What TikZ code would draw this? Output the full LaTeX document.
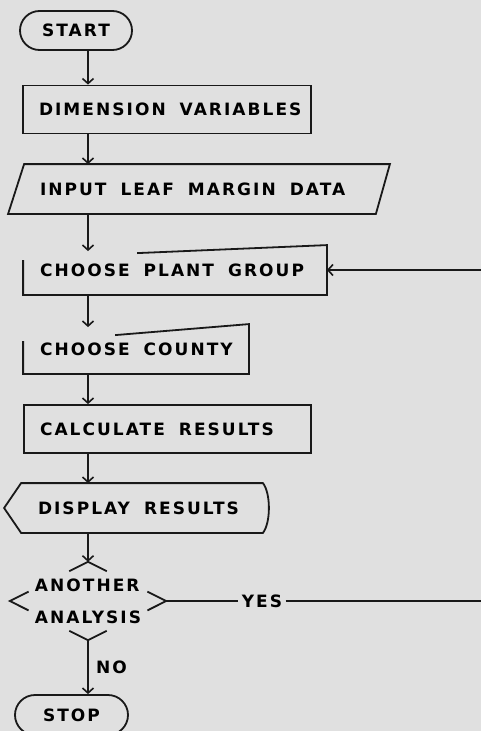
\documentclass[tikz,border=0pt]{standalone}
\usepackage{fontspec}
\usetikzlibrary{arrows.meta, positioning, calc, shapes.misc}
\newfontfamily\lettering[LetterSpace=12]{DejaVu Sans Bold}
\newcommand\wgap{\nobreak\hskip 14pt\relax}
\uchyph=0
\definecolor{paper}{RGB}{224,224,224}
\definecolor{ink}{RGB}{25,25,25}

\begin{document}
\begin{tikzpicture}[
        x=1pt, y=-1pt,
        font={\fontsize{17}{20}\lettering},
        box/.style={draw=ink, line width=1.8pt, minimum height=48, inner xsep=16, inner ysep=0, align=left},
        term/.style={draw=ink, line width=1.8pt, rounded rectangle, minimum width=112, minimum height=39, inner sep=0},
        edge/.style={draw=ink, line width=1.8pt},
        arr/.style={-{Straight Barb[length=5pt, width=11pt]}, draw=ink, line width=1.6pt}
    ]
        \useasboundingbox (0,0) rectangle (481,731);
        \clip (0,0) rectangle (481,731);
        \fill[paper] (0,0) rectangle (481,731);
        \coordinate (spine) at (88,0);
        \coordinate (back) at (500,0);

        \node[term] (start) at (76,30.5) {START};
        \node[box, text width=256] (dim) at (167,109.5) {DIMENSION\wgap VARIABLES};
        \node[box, draw=none, text width=318] (input) at (199,189) {INPUT\wgap LEAF\wgap MARGIN\wgap DATA};
        \node[box, draw=none, text width=270] (plant) at (175,270) {CHOOSE\wgap PLANT\wgap GROUP};
        \node[box, draw=none, text width=192] (county) at (136,349) {CHOOSE\wgap COUNTY};
        \node[box, text width=255] (calc) at (167.5,429) {CALCULATE\wgap RESULTS};
        \node[box, draw=none, text width=208] (display) at (142,508) {DISPLAY\wgap RESULTS};
        \node[align=left, minimum width=156, minimum height=78, inner sep=0] (dec) at (88,601) {ANOTHER\\[12pt]ANALYSIS};
        \node (yes) at (262,601) {YES};
        \node[term, minimum width=113, minimum height=40] (stop) at (71.5,715) {STOP};

        % outlines of the odd shapes
        \draw[edge] ($(input.north west)+(1,0)$) -- ($(input.north east)+(15,0)$) -- ($(input.south east)+(1,0)$) -- ($(input.south west)+(-15,0)$) -- cycle;
        \draw[edge] ($(plant.north west)+(114,8)$) -- (plant.north east) -- (plant.south east) -- (plant.south west) -- ($(plant.north west)+(0,15)$);
        \draw[edge] ($(county.north west)+(92,11)$) -- (county.north east) -- (county.south east) -- (county.south west) -- ($(county.north west)+(0,17)$);
        \draw[edge] ($(display.west)+(-17,0)$) -- (display.north west) -- (display.north east) .. controls +(8,10) and +(8,-10) .. (display.south east) -- (display.south west) -- cycle;
        \foreach \v/\a/\b in {north/west/east, east/north/south, south/east/west, west/south/north}
            \draw[edge] ($(dec.\v)!0.24!(dec.\a)$) -- (dec.\v) -- ($(dec.\v)!0.24!(dec.\b)$);

        \draw[arr] (start.south -| spine) -- (dim.north -| spine);
        \draw[arr] (dim.south -| spine) -- (input.north -| spine);
        \draw[arr] (input.south -| spine) -- ($(plant.north -| spine)+(0,6)$);
        \draw[arr] (plant.south -| spine) -- ($(county.north -| spine)+(0,3)$);
        \draw[arr] (county.south -| spine) -- (calc.north -| spine);
        \draw[arr] (calc.south -| spine) -- (display.north -| spine);
        \draw[arr] (display.south -| spine) -- (dec.north);
        \draw[arr] (dec.south) -- node[right=4pt] (no) {NO} (stop.north -| dec.south);
        \draw[edge] (dec.east) -- (yes.west);
        \draw[arr] (yes.east) -- (yes.east -| back) |- (plant.east);
    \end{tikzpicture}
\end{document}
